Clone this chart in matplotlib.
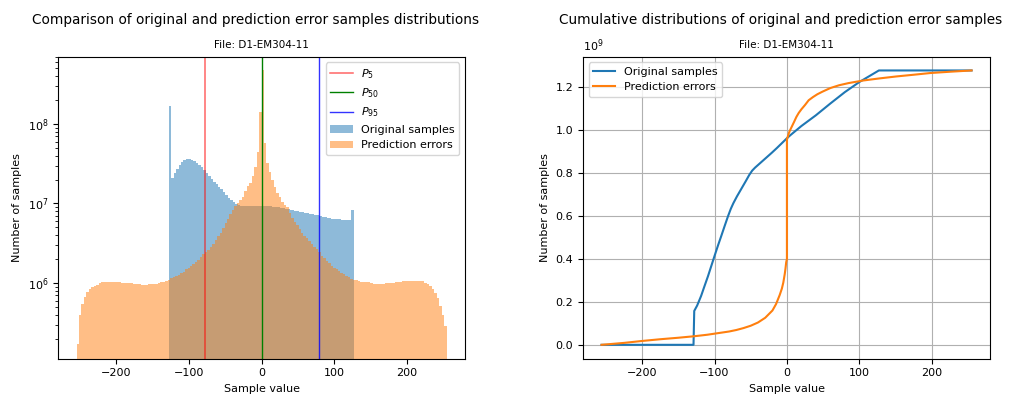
"""Histogram and cumulative distribution of original samples vs prediction errors
"""

import numpy as np
import matplotlib as mpl
mpl.use('Agg')
import matplotlib.pyplot as plt


FILE_NAME = 'D1-EM304-11'

# Histogram counts in millions (bins 3.4 sample values wide)
bin_width = 3.4

orig_first_edge = -128
orig_counts_m = [
    170.0, 20.6, 24.0, 27.4, 30.2, 32.8, 34.8, 36.0, 36.0, 35.2,
    33.9, 32.2, 30.5, 28.4, 26.1, 24.4, 22.2, 20.5, 18.8, 17.4,
    16.3, 15.1, 14.0, 12.9, 11.8, 10.9, 10.3, 9.8, 9.5, 9.4,
    9.3, 9.3, 9.3, 9.3, 9.3, 9.3, 9.3, 9.3, 9.4, 9.3,
    9.3, 9.2, 9.1, 9.0, 8.9, 8.8, 8.7, 8.55, 8.45, 8.35,
    8.2, 8.1, 8.0, 7.9, 7.75, 7.65, 7.55, 7.4, 7.3, 7.2,
    7.1, 7.0, 6.85, 6.75, 6.6, 6.5, 6.45, 6.4, 6.35, 6.3,
    6.25, 6.2, 6.2, 6.2, 8.3,
]

err_first_edge = -255
err_counts_m = [
    0.17, 0.39, 0.54, 0.66, 0.76, 0.83, 0.88, 0.92, 0.95, 0.99,
    1.03, 1.03, 1.03, 1.03, 1.03, 1.03, 1.03, 1.03, 1.01, 1.00,
    1.00, 1.00, 1.00, 0.97, 0.97, 0.96, 0.94, 0.94, 0.94, 0.97,
    0.97, 0.97, 0.98, 1.00, 1.02, 1.04, 1.07, 1.10, 1.15, 1.18,
    1.22, 1.27, 1.32, 1.39, 1.48, 1.55, 1.64, 1.73, 1.82, 1.95,
    2.10, 2.28, 2.45, 2.63, 2.85, 3.10, 3.48, 3.88, 4.30, 4.87,
    5.6, 6.4, 7.3, 8.3, 9.3, 10.2, 11.0, 12.2, 14.3, 16.5,
    18.0, 22.0, 29.0, 45.0, 142.0, 480.0, 57.0, 32.0, 25.0, 19.8,
    16.0, 13.5, 12.0, 10.5, 9.6, 8.9, 7.6, 6.6, 5.8, 5.3,
    4.8, 4.3, 3.9, 3.65, 3.35, 3.05, 2.87, 2.65, 2.42, 2.20,
    2.05, 1.90, 1.77, 1.64, 1.55, 1.48, 1.41, 1.34, 1.29, 1.23,
    1.18, 1.13, 1.10, 1.08, 1.06, 1.04, 1.04, 1.04, 1.04, 1.00,
    0.98, 0.98, 0.98, 0.98, 0.98, 0.99, 1.00, 1.00, 1.00, 1.02,
    1.04, 1.04, 1.06, 1.07, 1.07, 1.07, 1.07, 1.07, 1.07, 1.07,
    1.05, 1.00, 0.96, 0.91, 0.84, 0.75, 0.64, 0.52, 0.40, 0.29,
]

# Percentiles of the prediction errors
p5, p50, p95 = -78, 0, 79

# Cumulative curves (billions of samples)
orig_cum_x = [-256, -129, -128, -124, -118.5, -114, -109, -104.5, -100, -95,
              -90.7, -86, -81.3, -77.5, -74, -69, -63, -57, -52, -48, -44,
              -40, -35, -28, -21, -14, -7, 0, 5, 20, 40, 60, 80, 100, 115,
              127, 255]
orig_cum_y = [0.0, 0.0, 0.158, 0.183, 0.228, 0.272, 0.32, 0.367, 0.414, 0.465,
              0.507, 0.554, 0.60, 0.634, 0.66, 0.692, 0.727, 0.762, 0.792,
              0.812, 0.826, 0.838, 0.853, 0.874, 0.895, 0.917, 0.94, 0.963,
              0.978, 1.02, 1.07, 1.125, 1.178, 1.225, 1.255, 1.279, 1.279]

err_cum_x = [-256, -225, -200, -175, -150, -128, -110, -100, -90, -80, -70,
             -60, -50, -40, -30, -20, -15, -10, -7, -5, -4, -3, -2, -1, 0, 0,
             1, 2.5, 4, 7, 10, 13, 16.3, 20, 25, 30, 36, 42, 49, 60, 72, 85,
             105, 128, 151, 175, 198, 225, 245, 255]
err_cum_y = [0.0, 0.009, 0.018, 0.026, 0.033, 0.040, 0.047, 0.052, 0.057,
             0.062, 0.069, 0.078, 0.089, 0.104, 0.126, 0.160, 0.190, 0.232,
             0.262, 0.29, 0.31, 0.33, 0.355, 0.385, 0.40, 0.957, 0.968,
             0.985, 0.998, 1.019, 1.04, 1.062, 1.081, 1.098, 1.118, 1.14,
             1.155, 1.168, 1.18, 1.197, 1.21, 1.22, 1.232, 1.242, 1.251,
             1.259, 1.267, 1.273, 1.277, 1.279]


def add_titles(ax, title):
    """Main title plus the file name right above the axes"""
    ax.text(0.486, 1.1216, title, transform=ax.transAxes, ha='center',
            va='center', fontsize=9.8)
    ax.set_title('File: ' + FILE_NAME, fontsize=7.5, pad=6)


def histogram_plot(ax):
    """Log-scale histograms with percentile lines"""
    orig_edges = orig_first_edge + bin_width * np.arange(len(orig_counts_m) + 1)
    err_edges = err_first_edge + bin_width * np.arange(len(err_counts_m) + 1)
    orig_mid = (orig_edges[:-1] + orig_edges[1:]) / 2
    err_mid = (err_edges[:-1] + err_edges[1:]) / 2

    l5 = ax.axvline(p5, color='red', alpha=0.6, linewidth=1.1)
    l50 = ax.axvline(p50, color='green', linewidth=1)
    l95 = ax.axvline(p95, color='blue', alpha=0.8, linewidth=1)
    _, _, b1 = ax.hist(orig_mid, bins=orig_edges,
                       weights=np.array(orig_counts_m) * 1e6,
                       alpha=0.5, log=True)
    _, _, b2 = ax.hist(err_mid, bins=err_edges,
                       weights=np.array(err_counts_m) * 1e6,
                       alpha=0.5, log=True)
    ax.set_ylim(1.12e5, 7e8)
    ax.set_xlabel('Sample value', fontsize=8)
    ax.set_ylabel('Number of samples', fontsize=8)
    ax.tick_params(labelsize=8)
    ax.legend([l5, l50, l95, b1[0], b2[0]],
              ['$P_{5}$', '$P_{50}$', '$P_{95}$',
               'Original samples', 'Prediction errors'],
              loc='upper right', fontsize=8)
    add_titles(ax, 'Comparison of original and prediction error samples distributions')


def cumulative_plot(ax):
    """Cumulative sample counts"""
    ax.plot(orig_cum_x, np.array(orig_cum_y) * 1e9, label='Original samples')
    ax.plot(err_cum_x, np.array(err_cum_y) * 1e9, label='Prediction errors')
    ax.grid(True)
    ax.yaxis.get_offset_text().set_visible(False)
    ax.text(0, 1.01, r'$10^{9}$', transform=ax.transAxes, fontsize=8,
            va='bottom', ha='left')
    ax.set_xlabel('Sample value', fontsize=8)
    ax.set_ylabel('Number of samples', fontsize=8)
    ax.tick_params(labelsize=8)
    ax.legend(loc='upper left', fontsize=8)
    add_titles(ax, 'Cumulative distributions of original and prediction error samples')


fig = plt.figure(figsize=(10.14, 3.94), dpi=100)
ax1 = fig.add_axes([0.0572, 0.090, 0.4014, 0.766])
ax2 = fig.add_axes([0.575, 0.090, 0.4014, 0.766])
histogram_plot(ax1)
cumulative_plot(ax2)
fig.savefig('out.png', dpi=100)
